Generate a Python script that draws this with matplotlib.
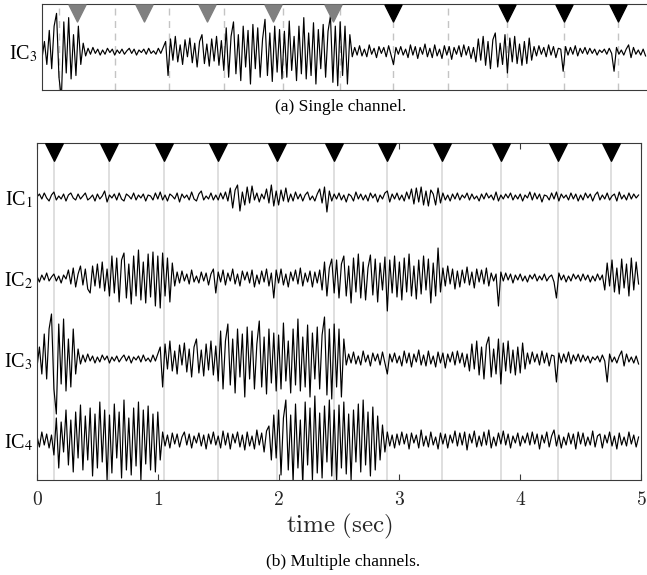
import numpy as np
import matplotlib
matplotlib.use("Agg")
import matplotlib.pyplot as plt

plt.rcParams['font.family'] = ['Liberation Serif', 'DejaVu Serif']
plt.rcParams['mathtext.fontset'] = 'stix'

# sampling of the hand-read traces (50 samples per second, 5 s)
fs = 50

# IC traces, deflection in pixels (positive = up), one row per 0.5 s
ic1 = [0, 3, -2, 4, -1, -4, 2, 5, -3, 1, -2, 3, -4, 2, 4, -1, -3, 3, -2, 1, 4, -3, -1, 2, -4,
       3, -2, 1, 6, -5, 2, -1, 3, -3, 4, -2, -4, 3, 1, -2, 4, -3, 2, -1, 3, -4, 2, 1, -3, 4,
       -2, 5, -3, 2, -4, 3, 1, -2, 4, -5, 3, -1, 2, -3, 5, -2, -4, 3, 6, -3, 1, -2, 4, -3, 2,
       -3, 4, -2, 5, -4, 9, -11, 7, 12, -14, 5, -8, 10, -6, 11, -3, 4, -5, 3, -2, 8, -6, 12, -9, 6,
       -8, 7, -4, 9, -5, 3, -4, 5, -2, 3, -4, 2, 5, -3, 1, -4, 3, 8, -6, 10, -15, 6, -4, 3, -2,
       4, -3, 2, -5, 3, 1, -4, 5, -2, 3, -3, 2, -4, 4, -1, 3, -5, 2, -2, 4, 6, -5, 3, -2, 4,
       -3, 2, -4, 5, -2, 8, -7, 9, -5, 10, -8, 6, -9, 7, 3, -8, 9, -6, 4, -3, 2, -4, 3, -2, 4,
       -3, 2, -1, 4, -3, 3, -2, 1, -4, 3, -2, 4, -1, 2, -3, 5, -4, 2, -2, 3, -1, 4, -3, 2, -2,
       3, -4, 2, -1, 5, -3, 4, -2, 3, -5, 2, 1, -3, 4, -2, 5, -4, 3, -1, 2, -3, 4, -2, 3, -4,
       2, -3, 4, -1, 3, -4, 2, 5, -3, 2, -2, 4, -3, 1, 3, -4, 5, -2, 2, -3, 4, -2, 3, -1, 2]

ic2 = [2, -4, 3, -2, 5, -3, 1, 4, -3, 2, -5, 3, -1, 8, -6, 10, -9, 4, 12, -7, 9, -11, -15, 12, -8,
       14, -10, 16, -13, 9, -18, 22, -15, 20, -24, 18, 25, -20, 14, -26, 22, -18, 28, -22, 16, -25, 24, -19, 26, -28,
       22, -30, 25, -18, 20, -24, 15, -8, 6, -5, 7, -3, 4, -6, 8, -4, 2, -5, 6, -3, 5, -7, 4, 9, -15,
       6, -4, 8, -7, 5, -3, 9, -6, 4, -8, 7, -2, 6, -5, 8, -9, 3, -6, 7, -4, 9, -8, 5, -20, 8,
       -5, 9, -7, 4, -9, 6, -3, 8, -6, 10, -8, 5, -4, 7, -9, 6, -5, 8, -12, 16, -18, 10, 19, -15, 18,
       -20, 14, 22, -18, 12, -25, 20, -14, 24, -20, 16, -22, 10, 23, -17, 19, -24, 15, -12, 21, -33, 18, -15, 22, -19,
       16, -22, 20, -14, 24, -18, 12, -21, 18, -16, 22, -12, 19, -25, 15, -18, 30, -14, 10, -8, 12, -6, 9, -11, 7,
       -9, 8, -5, 11, -7, 6, -10, 9, -4, 8, -6, 10, -8, 5, -3, 4, -28, 6, -3, 5, -2, 4, -5, 3, -2,
       4, -3, 2, -4, 3, -1, 4, -3, 2, -2, 4, -3, 1, 3, -4, -20, 5, -2, 3, -4, 2, -3, 4, -1, 3,
       -3, 4, -2, 3, -4, 2, -3, 4, -2, 3, -12, 15, -8, 18, -14, 10, -16, 19, -10, 14, -18, 20, -12, 16, -6]

ic3 = [-8, 12, -15, 25, -20, 30, 45, -30, -55, 35, -25, 40, -32, 20, -28, 30, -15, 10, -5, 4, -3, 5, -2, 3, -4,
       2, -3, 4, -1, 3, -4, 2, -2, 3, -3, 1, 4, -2, 3, -4, 2, -1, 3, -3, 4, -2, 1, -3, 4, -2,
       5, 12, -28, 15, -10, 18, -12, 8, -15, 14, -6, 16, -13, 10, -18, 12, 20, -14, 9, -17, 15, -11, 18, -16, 13,
       -22, 28, -30, 18, 35, -26, 20, -34, 30, -18, 25, -38, 32, -20, 28, -30, 15, 38, -28, 22, -35, 30, -24, 26, -32,
       24, -30, 36, -22, 18, -34, 30, -26, 40, -32, 22, -28, 34, -38, 26, -20, 32, -30, 24, 42, -36, 30, -40, 35, -28,
       30, -38, 20, -6, 5, -4, 7, -5, 3, -6, 8, -3, 4, -7, 6, -2, 5, -6, 7, -4, -15, 5, -3, 6, -4,
       3, -7, 8, -4, 6, -8, 5, -3, 9, -6, 4, -7, 8, -5, 3, -8, 7, -4, 6, -9, 5, -3, 7, -6, 8,
       -4, 6, -8, 5, -12, 15, -10, 18, -16, 12, -20, 14, 22, -18, 10, -15, 20, -25, 16, -12, 18, -14, 9, -16, 12,
       -14, 16, -10, 6, -5, 7, -3, 5, -6, 8, -4, 6, -7, 4, 3, -23, 6, -4, 5, -3, 7, -5, 4, -2, 5,
       -3, 4, -2, 3, -4, 2, -1, 3, -3, 4, -2, -23, 5, -3, 2, -4, 3, 8, -7, 5, -3, 2, -4, 3, -5]

ic4 = [4, -7, 8, -5, 6, -8, 5, -15, 22, -28, 18, -12, 30, -25, 20, -32, 28, -18, 35, -30, 24, -20, 32, -36, 26,
       -28, 38, -22, 30, -40, 25, -33, 36, -18, 28, -38, 40, -30, 22, -35, 32, -26, 38, -40, 30, -24, 34, -30, 26, -32,
       28, -20, 8, -6, 5, -8, 7, -4, 6, -7, 3, 8, -5, 6, -8, 4, -3, 7, -6, 5, -9, 6, -4, 8, -5,
       4, -8, 9, -5, 7, -9, 6, -3, 8, -7, 5, -10, 8, -6, 4, -9, 10, -5, 7, -12, 9, 14, -20, 25, -18,
       30, -35, 22, 40, -30, 25, -42, 36, -28, 20, -45, 38, -25, 32, -40, 44, -33, 27, -38, 34, -22, 40, -36, 30, -42,
       35, -28, 38, -34, 26, -40, 30, -22, 36, -32, 40, -25, 28, -36, 33, -30, 24, -20, 15, -12, 8, -6, 5, -8, 6,
       -5, 8, -4, 6, -9, 7, -3, 5, -8, 10, -6, 4, -7, 8, -5, 3, -9, 7, -4, 6, -8, 5, -3, 9, -6,
       7, -5, 8, -10, 6, -3, 9, -7, 4, -6, 8, -5, 10, -8, 3, -6, 7, -4, 9, -5, 6, -8, 4, -3, 7,
       -6, 4, -3, 7, -5, 8, -4, 6, -9, 5, -3, 8, -7, 4, 10, -6, 5, -8, 3, -5, 7, -4, 6, -9, 8,
       -4, 7, -6, 3, -5, 9, -7, 4, 6, -8, 5, -3, 8, -6, 4, -9, 7, -5, 3, -6, 8, -4, 5, -7, 3]

channels = [ic1, ic2, ic3, ic4]
channel_labels = ['IC$_1$', 'IC$_2$', 'IC$_3$', 'IC$_4$']

# event markers (sec)
event_times = [0.14, 0.60, 1.05, 1.50, 1.99, 2.46, 2.90, 3.35, 3.84, 4.31, 4.75]
single_black_idx = [6, 8, 9, 10]
single_gray_times = [0.29, 0.84, 1.36, 1.91, 2.40]

xticks = [0, 1, 2, 3, 4, 5]

W, H = 647, 575
fig = plt.figure(figsize=(W / 100, H / 100), dpi=100)
spine_col = '#3a3a3a'

# ---------- (a) single channel ----------
ax_a = fig.add_axes([42 / W, 1 - 90 / H, 606 / W, 86 / H])
t = np.arange(len(ic3)) / fs
for et in event_times:
    ax_a.axvline(et, color='#c4c4c4', lw=1.0, ls=(0, (5, 4)), zorder=0)
ax_a.plot(t, np.array(ic3), color='black', lw=0.85, zorder=2)
ax_a.scatter(single_gray_times, [0.895] * len(single_gray_times), marker='v', s=150,
             color='#808080', transform=ax_a.get_xaxis_transform(), zorder=3, clip_on=False)
black_t = [event_times[i] for i in single_black_idx]
ax_a.scatter(black_t, [0.895] * len(black_t), marker='v', s=150,
             color='black', transform=ax_a.get_xaxis_transform(), zorder=3, clip_on=False)
ax_a.set_xlim(0, 5)
ax_a.set_ylim(-45, 56)
ax_a.set_xticks([])
ax_a.set_yticks([0])
ax_a.set_yticklabels(['IC$_3$'], fontsize=14.5)
ax_a.tick_params(axis='y', length=0, pad=3)
for s in ax_a.spines.values():
    s.set_color(spine_col)
    s.set_linewidth(0.8)

fig.text(341 / W, 1 - 107 / H, '(a) Single channel.', ha='center', va='center', fontsize=12.5)

# ---------- (b) multiple channels ----------
ax_b = fig.add_axes([37 / W, 1 - 480 / H, 604 / W, 337 / H])
spacing = 81
offsets = [-spacing * k for k in range(len(channels))]
for et in event_times:
    ax_b.axvline(et, color='#d6d6d6', lw=1.1, zorder=0)
for sig, off in zip(channels, offsets):
    tt = np.arange(len(sig)) / fs
    ax_b.plot(tt, np.array(sig) + off, color='black', lw=0.85, zorder=2)
ax_b.scatter(event_times, [0.973] * len(event_times), marker='v', s=160,
             color='black', transform=ax_b.get_xaxis_transform(), zorder=3, clip_on=False)
ax_b.set_xlim(0, 5)
ax_b.set_ylim(offsets[-1] - 40, 54)
ax_b.set_yticks(offsets)
ax_b.set_yticklabels(channel_labels, fontsize=14.5)
ax_b.tick_params(axis='y', length=0, pad=3)
ax_b.set_xticks(xticks)
ax_b.set_xticklabels(['$%d$' % v for v in xticks], fontsize=14, math_fontfamily='cm',
                     color='#262626')
ax_b.tick_params(axis='x', direction='in', length=4, top=True, pad=8, color=spine_col)
ax_b.set_xlabel(r'$\mathrm{time\ (sec)}$', fontsize=18, math_fontfamily='cm',
                color='#262626', labelpad=2)
for s in ax_b.spines.values():
    s.set_color(spine_col)
    s.set_linewidth(0.8)

fig.text(343 / W, 1 - 562 / H, '(b) Multiple channels.', ha='center', va='center', fontsize=12.5)

fig.savefig('out.png', dpi=100)
